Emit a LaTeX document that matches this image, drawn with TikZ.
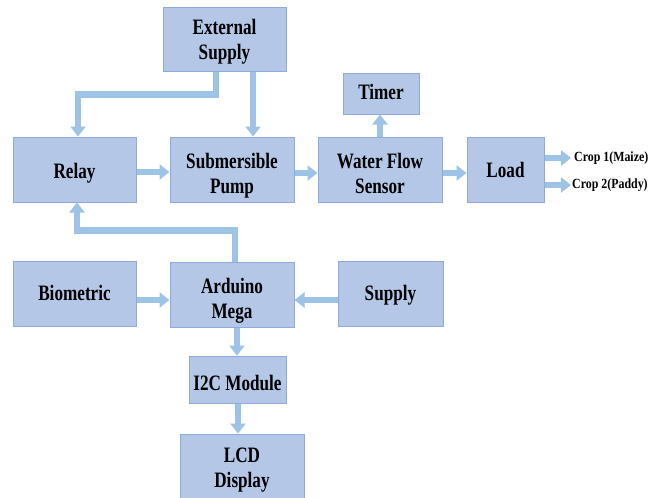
\documentclass[tikz,border=0pt]{standalone}
\usepackage{fontspec}
\newfontfamily\lbl{Liberation Serif}[FakeStretch=0.78]
\newfontfamily\lbls{Liberation Serif}[FakeStretch=0.85]
\usetikzlibrary{arrows.meta}
\definecolor{boxfill}{HTML}{B4C7E7}
\definecolor{boxdraw}{HTML}{8FAADC}
\definecolor{arrowc}{HTML}{9DC3E6}
\tikzset{
  box/.style={draw=boxdraw, fill=boxfill, line width=1pt, inner sep=0pt},
  txt/.style={inner sep=0pt, align=center,
    font=\lbl\bfseries\fontsize{22}{25}\selectfont},
  conn/.style={line width=6.5pt, draw=arrowc, -{Triangle[width=15pt,length=10pt]}},
  croplbl/.style={anchor=west, inner sep=0pt, font=\lbls\bfseries\fontsize{14}{16}\selectfont}
}
\begin{document}
\begin{tikzpicture}[x=1pt,y=-1pt]
\fill[white] (0,0) rectangle (651,498);
\clip (0,0) rectangle (651,498);
\node[box, minimum width=123pt, minimum height=64pt] (ext) at (224.5,39) {};
\node[box, minimum width=123pt, minimum height=65pt] (relay) at (74.5,169.5) {};
\node[box, minimum width=124pt, minimum height=65pt] (pump) at (232,169.5) {};
\node[box, minimum width=124pt, minimum height=65pt] (wfs) at (380,169.5) {};
\node[box, minimum width=76pt, minimum height=41pt] (timer) at (381,93.5) {};
\node[box, minimum width=77pt, minimum height=65pt] (load) at (505.5,169.5) {};
\node[box, minimum width=123pt, minimum height=65pt] (bio) at (74.5,293.5) {};
\node[box, minimum width=124pt, minimum height=65pt] (ard) at (232,294.5) {};
\node[box, minimum width=105pt, minimum height=65pt] (sup) at (390.5,293.5) {};
\node[box, minimum width=97pt, minimum height=47pt] (i2c) at (237.5,379.5) {};
\node[box, minimum width=124pt, minimum height=68pt] (lcd) at (242,468) {};

\node[txt] (extt) at ([yshift=-2.5pt]ext.center) {External\\Supply};
\node[txt] (relayt) at ([yshift=-4pt]relay.center) {Relay};
\node[txt] (pumpt) at ([yshift=-6.5pt]pump.center) {Submersible\\Pump};
\node[txt] (wfst) at ([yshift=-3.5pt]wfs.center) {Water Flow\\Sensor};
\node[txt] (timert) at ([yshift=1.5pt]timer.center) {Timer};
\node[txt] (loadt) at (load.center) {Load};
\node[txt] (biot) at ([yshift=0.5pt]bio.center) {Biometric};
\node[txt] (ardt) at ([yshift=-6pt]ard.center) {Arduino\\Mega};
\node[txt] (supt) at ([yshift=-2pt]sup.center) {Supply};
\node[txt] (i2ct) at ([yshift=-3pt]i2c.center) {I2C Module};
\node[txt] (lcdt) at ([yshift=-2.5pt]lcd.center) {LCD\\Display};

\draw[conn] ([xshift=-8.5pt]ext.south) -- ++(0,23) -| ([xshift=3.5pt]relay.north);
\draw[conn] ([xshift=28.5pt]ext.south) -- ([xshift=21pt]pump.north);
\draw[conn] ([yshift=-2.5pt]relay.east) -- ([yshift=-2.5pt]pump.west);
\draw[conn] ([yshift=-3.5pt]pump.east) -- ([yshift=-3.5pt]wfs.west);
\draw[conn] ([yshift=-3.5pt]wfs.east) -- ([yshift=-3.5pt]load.west);
\draw[conn] (wfs.north) -- (wfs.north |- timer.south);
\draw[conn] ([xshift=3pt]ard.north) -- ++(0,-31) -| ([xshift=2.5pt]relay.south);
\draw[conn] ([yshift=-6.5pt]bio.east) -- ([yshift=-6.5pt]bio.east -| ard.west);
\draw[conn] ([yshift=-6.5pt]sup.west) -- ([yshift=-6.5pt]sup.west -| ard.east);
\draw[conn] ([xshift=5pt]ard.south) -- ([xshift=5pt]ard.south |- i2c.north);
\draw[conn] ([xshift=0.5pt]i2c.south) -- ([xshift=0.5pt]i2c.south |- lcd.north);

\coordinate (c1) at (571,158);
\coordinate (c2) at (571,185);
\draw[conn] (load.east |- c1) -- (c1);
\draw[conn] (load.east |- c2) -- (c2);
\node[croplbl] (l1) at (574,158) {Crop 1(Maize)};
\node[croplbl] (l2) at (572,185) {Crop 2(Paddy)};
\end{tikzpicture}
\end{document}
